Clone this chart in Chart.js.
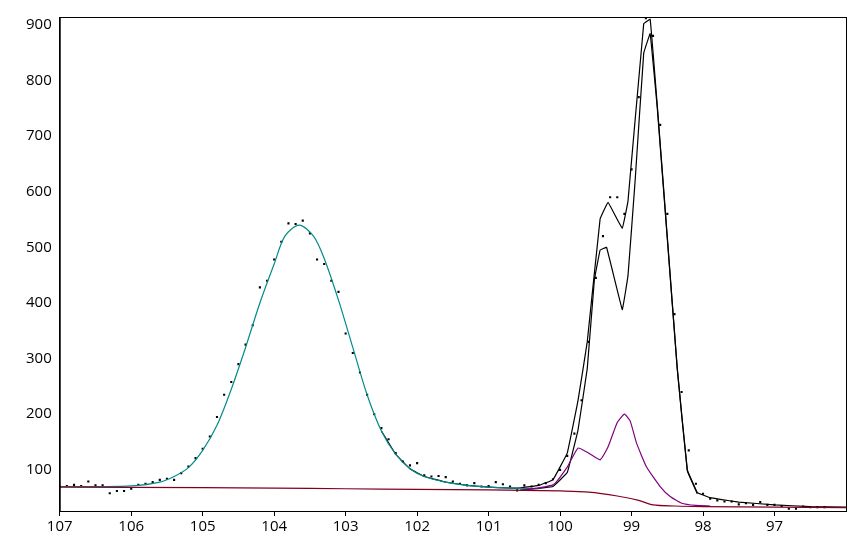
<!DOCTYPE html>
<html><head><meta charset="utf-8">
<script src="https://cdn.jsdelivr.net/npm/chart.js@4"></script>
<style>html,body{margin:0;padding:0;background:#fff}#w{width:853px;height:540px}</style>
</head><body><div id="w"><canvas id="c"></canvas></div>
<script>
const dotX = [107.0,106.9,106.8,106.7,106.6,106.5,106.4,106.3,106.2,106.1,106.0,105.9,105.8,105.7,105.6,105.5,105.4,105.3,105.2,105.1,105.0,104.9,104.8,104.7,104.6,104.5,104.4,104.3,104.2,104.1,104.0,103.9,103.8,103.7,103.6,103.5,103.4,103.3,103.2,103.1,103.0,102.9,102.8,102.7,102.6,102.5,102.4,102.3,102.2,102.1,102.0,101.9,101.8,101.7,101.6,101.5,101.4,101.3,101.2,101.1,101.0,100.9,100.8,100.7,100.6,100.5,100.4,100.3,100.2,100.1,100.0,99.9,99.8,99.7,99.6,99.5,99.4,99.3,99.2,99.1,99.0,98.9,98.8,98.7,98.6,98.5,98.4,98.3,98.2,98.1,98.0,97.9,97.8,97.7,97.6,97.5,97.4,97.3,97.2,97.1,97.0,96.9,96.8,96.7,96.6,96.5,96.4,96.3];
const dotY = [70,71,73,71,79,72,72,58,62,62,66,73,75,78,82,84,82,94,106,121,138,160,195,235,258,290,325,360,428,440,478,510,543,542,548,525,478,470,440,420,345,310,275,235,200,175,155,130,115,108,112,90,88,89,87,79,75,72,76,70,71,78,74,70,63,72,70,73,76,83,100,125,165,225,330,445,520,590,590,560,640,770,912,880,720,560,380,240,135,75,57,48,45,43,43,38,40,37,42,37,37,35,30,30,34,33,33,33];
const envX = [102.5,102.3,102.1,101.9,101.6,101.3,101.0,100.6,100.3,100.1,99.9,99.75,99.62,99.44,99.33,99.13,99.05,98.83,98.74,98.64,98.5,98.36,98.22,98.08,97.9,97.76,97.5,97.0,96.5,96.0];
const envY = [170,128,102,88,78,72,69,67,72,82,130,224,330,551,581,534,583,902,910,755,519,282,100,59,50,47,42,37,34,33];
const innerX = [100.56,100.1,99.9,99.75,99.62,99.52,99.44,99.35,99.13,99.05,98.95,98.83,98.74,98.64,98.5,98.36,98.22,98.08];
const innerY = [63,70,95,171,282,442,495,500,388,449,620,849,884,750,515,280,98,57];
const cyanX = [107,106.5,106,105.6,105.4,105.2,105.0,104.8,104.6,104.4,104.2,104.0,103.85,103.65,103.45,103.3,103.1,102.9,102.7,102.5,102.3,102.1,101.9,101.6,101.3,101.0,100.6,100.3];
const cyanY = [70,70,71,78,88,104,135,180,245,320,400,470,520,540,520,480,405,320,235,170,128,102,88,78,72,69,67,66];
const purX = [100.56,100.1,99.9,99.75,99.6,99.44,99.33,99.2,99.1,99.02,98.93,98.79,98.6,98.46,98.3,98.1,97.9];
const purY = [63,73,105,139,130,118,141,185,200,188,148,105,70,52,40,36,35];
const bgX = [107,105,104,103,102,101,100.5,100,99.6,99.2,98.9,98.7,98.4,98.0,97.0,96.0];
const bgY = [69,68,67,66,65,64,63,62,60,53,45,37,35,34,33,32];
const yTicks = [100,200,300,400,500,600,700,800,900];
const xTicks = [107,106,105,104,103,102,101,100,99,98,97];

const pts = (xs, ys) => xs.map((x, i) => ({x, y: ys[i]}));
const line = (xs, ys, color, t) => ({type:'line', data:pts(xs,ys), borderColor:color, borderWidth:1.2, pointRadius:0, tension:t, fill:false});

const frame = {id:'frame', afterDraw(ch){const a=ch.chartArea,c=ch.ctx;c.save();c.strokeStyle='#000';c.lineWidth=1;c.strokeRect(a.left+0.5,a.top+0.5,a.right-a.left,a.bottom-a.top);c.restore();}};

new Chart(document.getElementById('c'), {
  data: {datasets: [
    line(bgX, bgY, '#800020', 0.3),
    line(purX, purY, '#800080', 0.15),
    line(cyanX, cyanY, '#008b8b', 0.3),
    line(innerX, innerY, '#000', 0.05),
    line(envX, envY, '#000', 0.05),
    {type:'scatter', data:pts(dotX,dotY), backgroundColor:'#000', borderWidth:0, pointRadius:1.5, pointStyle:'rect'}
  ]},
  options: {
    responsive:true, maintainAspectRatio:false, animation:false,
    layout:{padding:{top:-7,right:7,left:18,bottom:2}},
    plugins:{legend:{display:false}, tooltip:{enabled:false}},
    scales:{
      x:{type:'linear', reverse:true, min:96, max:107,
        afterBuildTicks(s){s.ticks = xTicks.map(v=>({value:v}));},
        grid:{drawOnChartArea:false, drawTicks:true, tickLength:5, color:'#000'},
        border:{color:'#000'},
        ticks:{color:'#000', font:{family:'Open Sans', size:15}, padding:2, maxRotation:0}},
      y:{type:'linear', min:26, max:914,
        afterBuildTicks(s){s.ticks = yTicks.map(v=>({value:v}));},
        grid:{display:false, drawTicks:false},
        border:{color:'#000'},
        ticks:{color:'#000', font:{family:'Open Sans', size:15}, padding:8}}
    }
  },
  plugins:[frame]
});
</script></body></html>
